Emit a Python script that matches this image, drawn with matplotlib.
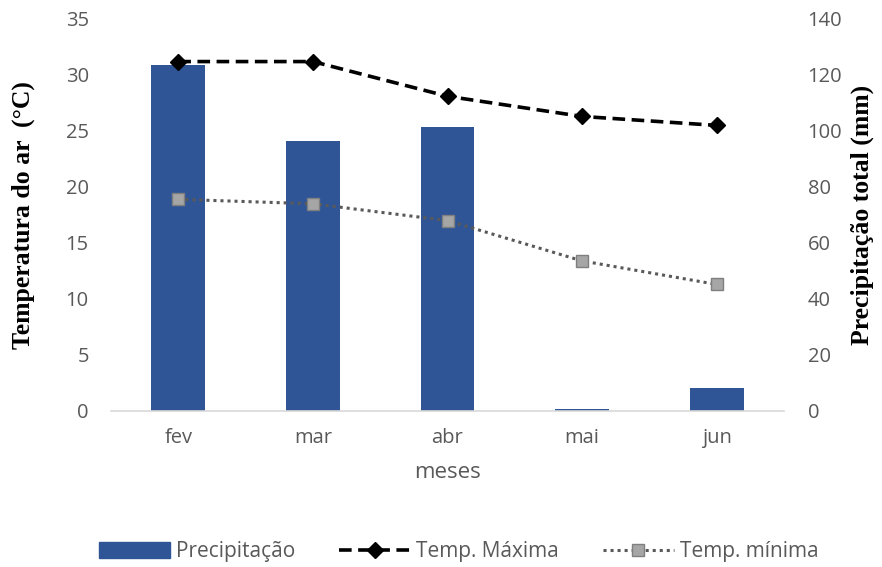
import matplotlib
matplotlib.use("Agg")
import matplotlib.pyplot as plt
from matplotlib.lines import Line2D
from matplotlib.patches import Patch
import numpy as np

meses = ["fev", "mar", "abr", "mai", "jun"]
precipitacao = [123.6, 96.4, 101.4, 0.6, 8.2]
temp_max = [31.2, 31.2, 28.1, 26.3, 25.5]
temp_min = [18.9, 18.5, 17.0, 13.4, 11.3]

grey = "#595959"
bar_color = "#2F5597"
sans = "Open Sans"

fig = plt.figure(figsize=(8.82, 5.67), dpi=100)
ax = fig.add_axes([111/882, 1-411/567, (784-111)/882, (411-19)/567])
ax2 = ax.twinx()

x = np.arange(len(meses))
ax2.bar(x, precipitacao, width=0.4, color=bar_color, zorder=1)
ax.set_zorder(ax2.get_zorder() + 1)
ax.patch.set_visible(False)

ax.plot(x, temp_max, color="black", linestyle=(0, (3.5, 1.8)), linewidth=2.6,
        marker="D", markersize=8, markerfacecolor="black", markeredgecolor="black")
ax.plot(x, temp_min, color="#595959", linestyle=(0, (1, 1.3)), linewidth=2.2,
        marker="s", markersize=9, markerfacecolor="#A6A6A6", markeredgecolor="#7F7F7F")

ax.set_xlim(-0.5, 4.5)
ax.set_ylim(0, 35)
ax2.set_ylim(0, 140)
ax.set_yticks(range(0, 36, 5))
ax2.set_yticks(range(0, 141, 20))
ax.set_xticks(x)
ax.set_xticklabels(meses)

for a in (ax, ax2):
    for s in a.spines.values():
        s.set_visible(False)
    a.tick_params(length=0, colors=grey, labelsize=14.5)
    for lbl in a.get_xticklabels() + a.get_yticklabels():
        lbl.set_family(sans)
ax.spines["bottom"].set_visible(True)
ax.spines["bottom"].set_color("#D9D9D9")
ax.spines["bottom"].set_linewidth(1.2)
ax.tick_params(axis="y", pad=16)
ax2.tick_params(axis="y", pad=17)
ax.tick_params(axis="x", pad=12)

ax.set_xlabel("meses", family=sans, color=grey, fontsize=16, labelpad=10)
ax.set_ylabel("Temperatura do ar  (°C)", family="Liberation Serif", fontweight="bold",
              fontsize=18.5, color="black", labelpad=22)
ax2.set_ylabel("Precipitação total (mm)", family="Liberation Serif", fontweight="bold",
               fontsize=18.5, color="black", labelpad=6)

handles = [
    Patch(facecolor=bar_color, edgecolor=bar_color),
    Line2D([], [], color="black", linestyle=(0, (3.5, 1.8)), linewidth=2.6, marker="D",
           markersize=8, markerfacecolor="black"),
    Line2D([], [], color="#595959", linestyle=(0, (1, 1.3)), linewidth=2.2, marker="s",
           markersize=9, markerfacecolor="#A6A6A6", markeredgecolor="#7F7F7F"),
]
leg = fig.legend(handles, ["Precipitação", "Temp. Máxima", "Temp. mínima"],
                 loc="center", bbox_to_anchor=(459/882, 1-552/567), ncol=3, frameon=False,
                 prop={"family": sans, "size": 15}, handlelength=3.4, handleheight=0.8,
                 columnspacing=2.1, handletextpad=0.3)
for t in leg.get_texts():
    t.set_color(grey)

fig.savefig("out.png", dpi=100)
